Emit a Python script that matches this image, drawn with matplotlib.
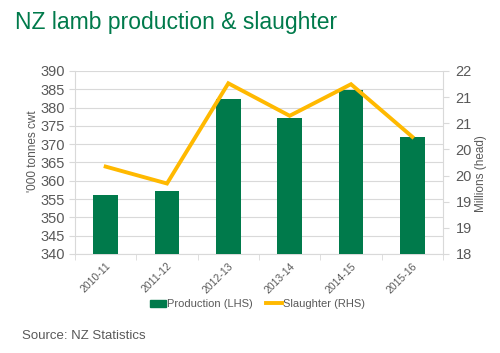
import matplotlib
matplotlib.use("Agg")
import matplotlib.pyplot as plt
import numpy as np

categories = ["2010-11", "2011-12", "2012-13", "2013-14", "2014-15", "2015-16"]
production = [356.1, 357.2, 382.4, 377.2, 384.9, 371.9]
slaughter = [19.91, 19.54, 21.73, 21.02, 21.71, 20.56]
left_ticks = list(range(340, 391, 5))
right_ticks = list(np.linspace(18, 22, 8))

plt.rcParams['font.family'] = ['Liberation Sans', 'DejaVu Sans']
GREEN = "#007A4B"
GOLD = "#FFB900"
GREY = "#595959"

fig = plt.figure(figsize=(5, 3.53), dpi=100)
ax = fig.add_axes([0.15, 0.2805, 0.736, 0.5185])
x = np.arange(len(categories))
ax.bar(x, production, width=0.4, color=GREEN, zorder=3)
ax.set_ylim(340, 390)
ax.set_xlim(-0.5, len(categories) - 0.5)
ax.set_yticks(left_ticks)
ax.set_yticklabels([str(v) for v in left_ticks], fontsize=10.5, color=GREY)
ax.set_xticks(x)
ax.set_xticklabels(categories, rotation=45, ha="right", rotation_mode="anchor",
                   fontsize=7.5, color=GREY)
ax.set_xticks(np.arange(-0.5, len(categories)), minor=True)
ax.tick_params(axis="x", which="major", length=0, pad=5)
ax.tick_params(axis="x", which="minor", length=4, color="#D9D9D9")
ax.tick_params(axis="y", length=4, color="#D9D9D9", pad=3)
ax.grid(axis="y", color="#D9D9D9", linewidth=0.8, zorder=0)
for s in ["top", "right"]:
    ax.spines[s].set_visible(False)
for s in ["left", "bottom"]:
    ax.spines[s].set_color("#D9D9D9")
ax.set_ylabel("'000 tonnes cwt", fontsize=8.5, color=GREY)
ax.yaxis.set_label_coords(-0.097, 0.56)

ax2 = ax.twinx()
ax2.plot(x, slaughter, color=GOLD, linewidth=2.8, zorder=4,
         solid_joinstyle="miter")
ax2.set_ylim(18, 22)
ax2.set_yticks(right_ticks)
ax2.set_yticklabels([f"{v:.0f}" for v in right_ticks], fontsize=10.5, color=GREY)
ax2.tick_params(axis="y", length=4, color="#D9D9D9", pad=5)
for s in ["top", "left", "bottom"]:
    ax2.spines[s].set_visible(False)
ax2.spines["right"].set_color("#D9D9D9")
ax2.set_ylabel("Millions (head)", fontsize=8.5, color=GREY)
ax2.yaxis.set_label_coords(1.088, 0.44)

from matplotlib.patches import Patch
from matplotlib.lines import Line2D
handles = [Patch(color=GREEN), Line2D([0], [0], color=GOLD, linewidth=2.8)]
fig.legend(handles, ["Production (LHS)", "Slaughter (RHS)"], loc="center",
           bbox_to_anchor=(0.515, 0.138), ncol=2, frameon=False,
           fontsize=8, labelcolor=GREY, handlelength=1.4, handletextpad=0.1,
           columnspacing=1.2)

fig.text(0.03, 0.935, "NZ lamb production & slaughter", fontsize=16.5,
         color=GREEN, va="center", ha="left")
fig.text(0.044, 0.048, "Source: NZ Statistics", fontsize=9.5, color=GREY,
         va="center", ha="left")

fig.savefig("out.png", dpi=100)
